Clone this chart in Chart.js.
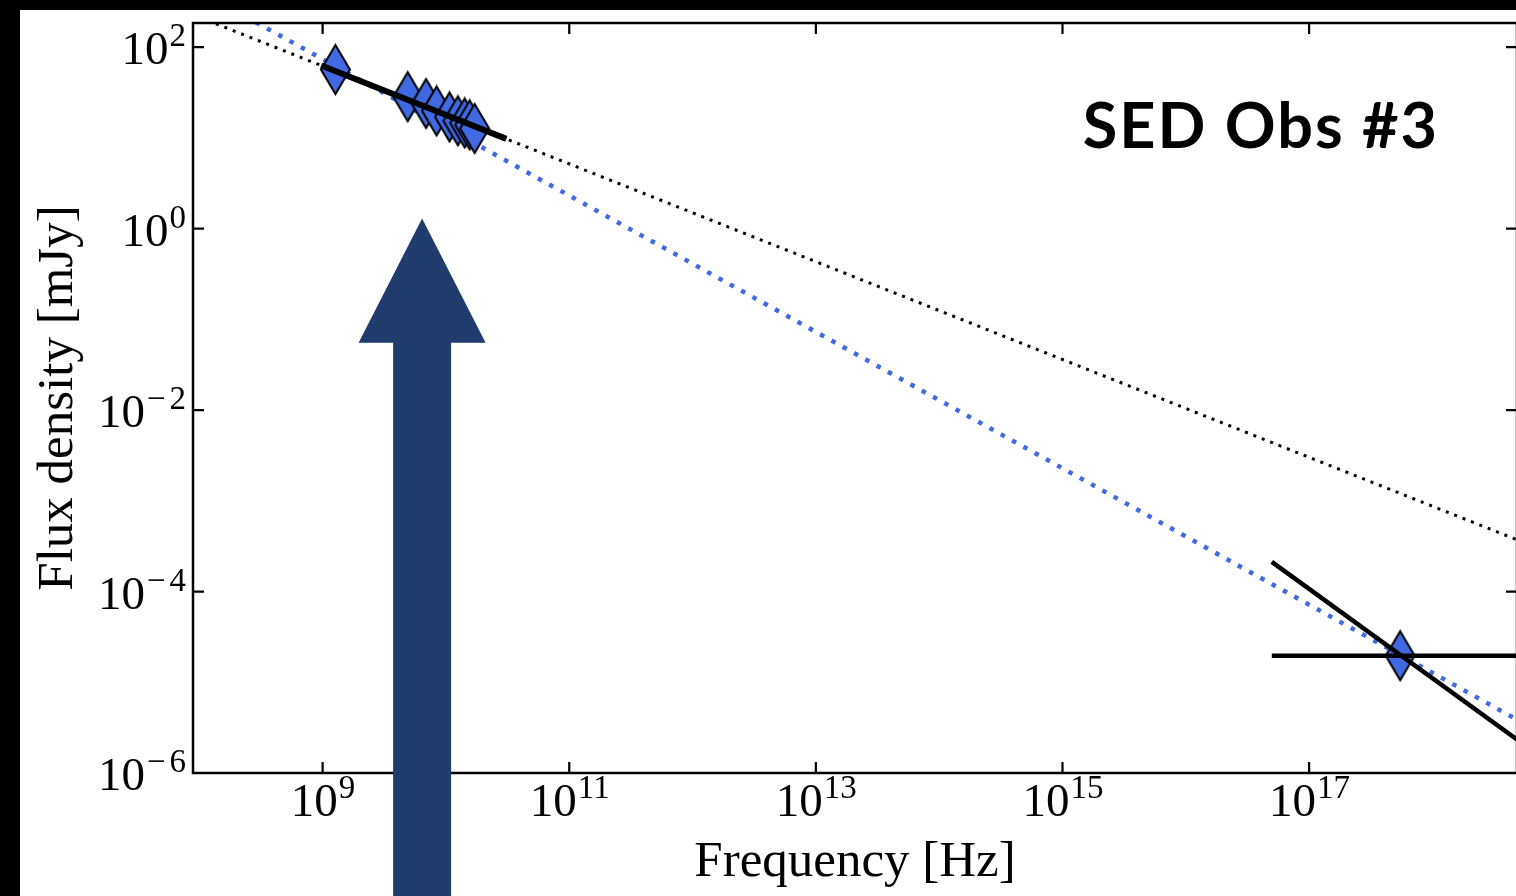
<!DOCTYPE html>
<html>
<head>
<meta charset="utf-8">
<title>SED Obs #3</title>
<script src="https://cdn.jsdelivr.net/npm/chart.js@4.4.1/dist/chart.umd.min.js"></script>
<style>
    html, body { margin: 0; padding: 0; background: #000; overflow: hidden; width: 1516px; height: 896px; }
    #wrap { position: absolute; left: 20px; top: 10px; width: 1510px; height: 886px; background: #fff; }
</style>
</head>
<body>
<div id="wrap"><canvas id="sedChart" width="1510" height="886"></canvas></div>
<script>
// --- Données (Hz, mJy) ---
const radioFreq = [1.27e9, 4.9e9, 6.9e9, 8.4e9, 1.07e10, 1.25e10, 1.42e10, 1.56e10, 1.71e10];
const radioFlux = [56.6, 28.4, 23.9, 19.8, 17.0, 15.4, 14.6, 13.9, 12.7];

const xrayFreq = [5.47e17];
const xrayFlux = [1.96e-5];

// modèles en loi de puissance (pointillés)
const modelFreq = [1e8, 1e19];
const blackModelFlux = [214, 2.52e-4];
const blueModelFlux = [416, 2.25e-6];

// ajustements (traits pleins)
const radioFitFreq = [9.75e8, 3.09e10];
const radioFitFlux = [62.8, 9.75];
const xraySlopeFreq = [4.98e16, 1e19];
const xraySlopeFlux = [2.12e-4, 1.15e-6];
const xrayLevelFreq = [4.98e16, 1e19];
const xrayLevelFlux = [1.96e-5, 1.96e-5];

// graduations
const xTickValues = [1e9, 1e11, 1e13, 1e15, 1e17];
const yTickValues = [1e-6, 1e-4, 1e-2, 1, 1e2];

// flèche : fréquence, pointe et base de la tête (mJy)
const arrowFreq = 6.41e9;
const arrowTipFlux = 1.29;
const arrowHeadFlux = 0.0552;

const ROYAL = '#4169e1';
const NAVY = '#1f3c6d';
const SERIF = '"Liberation Serif", "Times New Roman", serif';
const BASE_SIZE = 47;
const SUP_SIZE = 33;

const toPoints = (xs, ys) => xs.map((x, i) => ({ x, y: ys[i] }));

// marqueur "thin diamond" façon matplotlib
function thinDiamond(w, h) {
    const c = document.createElement('canvas');
    c.width = w + 4;
    c.height = h + 4;
    const g = c.getContext('2d');
    g.beginPath();
    g.moveTo(c.width / 2, 2);
    g.lineTo(c.width - 2, c.height / 2);
    g.lineTo(c.width / 2, c.height - 2);
    g.lineTo(2, c.height / 2);
    g.closePath();
    g.fillStyle = ROYAL;
    g.fill();
    g.lineWidth = 2;
    g.strokeStyle = '#000';
    g.stroke();
    return c;
}
const diamond = thinDiamond(29, 49);

function powerLabel(ctx, exp, x, baseline, align) {
    const base = '10';
    const minus = exp < 0 ? '\u2212' : '';
    const digits = String(Math.abs(exp));
    const gap = minus ? 5 : 0;
    ctx.font = `${BASE_SIZE}px ${SERIF}`;
    const wb = ctx.measureText(base).width;
    ctx.font = `${SUP_SIZE}px ${SERIF}`;
    const wm = minus ? ctx.measureText(minus).width : 0;
    const wd = ctx.measureText(digits).width;
    const ws = wm + gap + wd;
    const left = align === 'center' ? x - (wb + ws) / 2 : x - wb - ws;
    ctx.textAlign = 'left';
    ctx.textBaseline = 'alphabetic';
    ctx.font = `${BASE_SIZE}px ${SERIF}`;
    ctx.fillText(base, left, baseline);
    ctx.font = `${SUP_SIZE}px ${SERIF}`;
    if (minus) ctx.fillText(minus, left + wb + 2, baseline - 18);
    ctx.fillText(digits, left + wb + 1 + wm + gap, baseline - 18);
}

// --- Cadre, graduations internes, étiquettes, légende et flèche ---
const framePlugin = {
    id: 'frame',
    afterDraw(chart) {
        const { ctx, chartArea: a, scales: { x, y } } = chart;
        const TL = 11;
        ctx.save();
        ctx.strokeStyle = '#000';
        ctx.lineWidth = 2.5;
        ctx.strokeRect(a.left, a.top, a.right - a.left, a.bottom - a.top);

        ctx.lineWidth = 2.2;
        ctx.beginPath();
        xTickValues.forEach(v => {
            const px = x.getPixelForValue(v);
            ctx.moveTo(px, a.bottom); ctx.lineTo(px, a.bottom - TL);
            ctx.moveTo(px, a.top); ctx.lineTo(px, a.top + TL);
        });
        yTickValues.forEach(v => {
            const py = y.getPixelForValue(v);
            ctx.moveTo(a.left, py); ctx.lineTo(a.left + TL, py);
            ctx.moveTo(a.right, py); ctx.lineTo(a.right - TL, py);
        });
        ctx.stroke();

        ctx.fillStyle = '#000';
        xTickValues.forEach(v => {
            powerLabel(ctx, Math.round(Math.log10(v)), x.getPixelForValue(v), a.bottom + 43, 'center');
        });
        yTickValues.forEach(v => {
            powerLabel(ctx, Math.round(Math.log10(v)), a.left - 8, y.getPixelForValue(v) + 17, 'right');
        });

        ctx.font = `bold 63px Lato, "Open Sans", sans-serif`;
        ctx.letterSpacing = '2px';
        ctx.textAlign = 'right';
        ctx.textBaseline = 'alphabetic';
        ctx.fillText('SED Obs #3', a.left + 0.9396 * (a.right - a.left) + 2, a.top + 0.1672 * (a.bottom - a.top));
        ctx.letterSpacing = '0px';

        const ax = x.getPixelForValue(arrowFreq);
        const tipY = y.getPixelForValue(arrowTipFlux);
        const baseY = y.getPixelForValue(arrowHeadFlux);
        const HEAD_W = 127, SHAFT_W = 58;
        ctx.fillStyle = NAVY;
        ctx.beginPath();
        ctx.moveTo(ax, tipY);
        ctx.lineTo(ax + HEAD_W / 2, baseY);
        ctx.lineTo(ax + SHAFT_W / 2, baseY);
        ctx.lineTo(ax + SHAFT_W / 2, chart.height + 5);
        ctx.lineTo(ax - SHAFT_W / 2, chart.height + 5);
        ctx.lineTo(ax - SHAFT_W / 2, baseY);
        ctx.lineTo(ax - HEAD_W / 2, baseY);
        ctx.closePath();
        ctx.fill();
        ctx.restore();
    }
};

const lineDefaults = { showLine: true, pointRadius: 0, pointHoverRadius: 0, fill: false, tension: 0 };

new Chart(document.getElementById('sedChart'), {
    type: 'scatter',
    data: {
        datasets: [
            { ...lineDefaults, label: 'Ajustement radio', data: toPoints(radioFitFreq, radioFitFlux), borderColor: '#000', borderWidth: 6, order: 0 },
            { ...lineDefaults, label: 'Pente X', data: toPoints(xraySlopeFreq, xraySlopeFlux), borderColor: '#000', borderWidth: 4.5, order: 0 },
            { ...lineDefaults, label: 'Niveau X', data: toPoints(xrayLevelFreq, xrayLevelFlux), borderColor: '#000', borderWidth: 4.5, order: 0 },
            { label: 'Radio', data: toPoints(radioFreq, radioFlux), pointStyle: diamond, pointRadius: 12, showLine: false, order: 1 },
            { label: 'X', data: toPoints(xrayFreq, xrayFlux), pointStyle: diamond, pointRadius: 12, showLine: false, order: 1 },
            { ...lineDefaults, label: 'Modèle noir', data: toPoints(modelFreq, blackModelFlux), borderColor: '#000', borderWidth: 3, borderDash: [3, 6], order: 2 },
            { ...lineDefaults, label: 'Modèle bleu', data: toPoints(modelFreq, blueModelFlux), borderColor: ROYAL, borderWidth: 4.5, borderDash: [4.5, 8.4], order: 3 }
        ]
    },
    options: {
        responsive: false,
        animation: false,
        events: [],
        layout: { padding: { top: 11, right: 12, left: 0, bottom: 0 } },
        plugins: { legend: { display: false }, tooltip: { enabled: false } },
        scales: {
            x: {
                type: 'logarithmic',
                min: 8.89e7,
                max: 4.85e18,
                grid: { display: false },
                border: { display: false },
                ticks: { display: false },
                title: { display: true, text: 'Frequency [Hz]', color: '#000', font: { family: SERIF, size: 51, lineHeight: 1 }, padding: { top: 0, bottom: 8 } },
                afterFit: s => { s.height = 123; }
            },
            y: {
                type: 'logarithmic',
                min: 1e-6,
                max: 184.5,
                grid: { display: false },
                border: { display: false },
                ticks: { display: false },
                title: { display: true, text: 'Flux density [mJy]', color: '#000', font: { family: SERIF, size: 51, lineHeight: 1 }, padding: { top: 13, bottom: 0 } },
                afterFit: s => { s.width = 173; }
            }
        }
    },
    plugins: [framePlugin]
});
</script>
</body>
</html>
